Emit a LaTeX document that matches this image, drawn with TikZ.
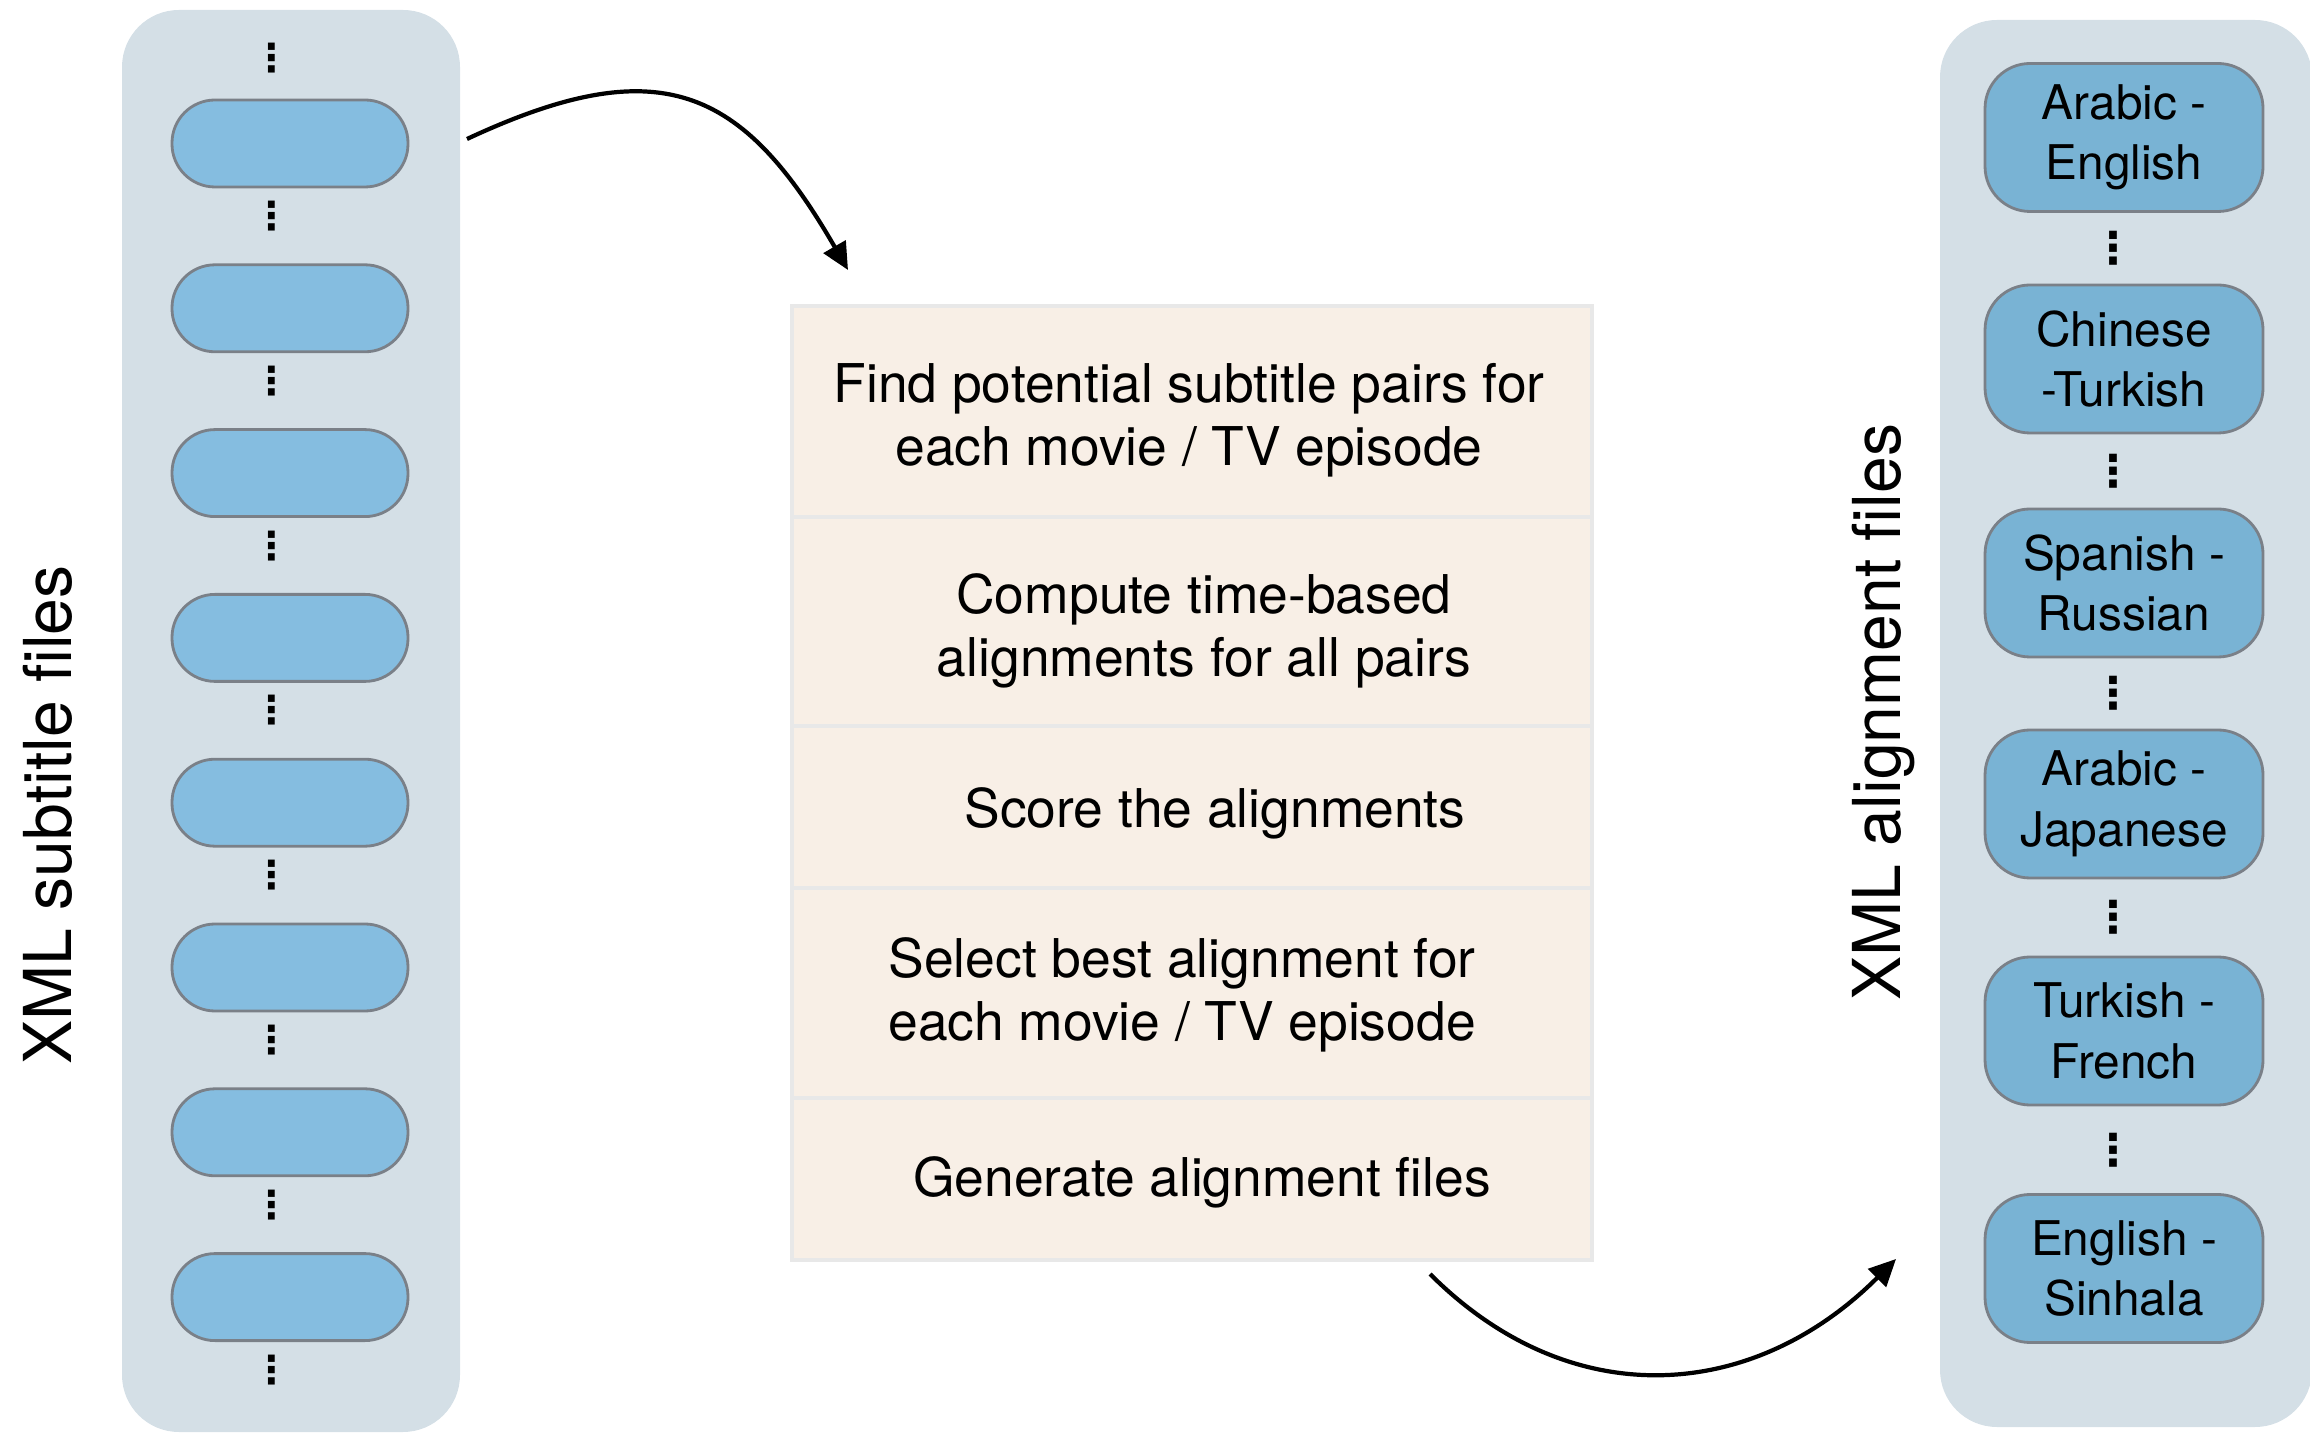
\documentclass[tikz,border=0pt]{standalone}
\usepackage{fontspec}
\setmainfont{TeX Gyre Heros}
\newfontfamily\dotfont{DejaVu Sans}
\usetikzlibrary{arrows.meta,positioning,calc}
\definecolor{pnBg}  {HTML}{D4DFE6}
\definecolor{pnOval}{HTML}{85BDE0}
\definecolor{pnPair}{HTML}{79B3D4}
\definecolor{pnEdge}{HTML}{7A8088}
\definecolor{stFill}{HTML}{F8EFE6}
\definecolor{stEdge}{HTML}{E8E8E8}
\newcommand{\vd}{{\dotfont\bfseries ⋮}}

\begin{document}
\begin{tikzpicture}[
      col/.style={fill=pnBg,rounded corners=0.57cm,inner sep=0pt},
      pill/.style={draw=pnEdge,fill=pnOval,line width=0.8pt,rounded corners=0.43cm,
                   minimum width=2.36cm,minimum height=0.87cm,inner sep=0pt},
      pair/.style={draw=pnEdge,fill=pnPair,line width=0.8pt,rounded corners=0.45cm,
                   minimum width=2.78cm,minimum height=1.48cm,align=center,inner sep=0pt,
                   font=\fontsize{13.6}{17.2}\selectfont},
      stepbox/.style={draw=stEdge,fill=stFill,line width=1.3pt,outer sep=0pt,minimum width=8.0cm},
      steptext/.style={align=center,inner sep=0pt,font=\fontsize{15.2}{17.9}\selectfont},
      side/.style={rotate=90,font=\fontsize{18.8}{22}\selectfont},
      dl/.style={font=\fontsize{11}{11}\selectfont,inner sep=0pt},
      dr/.style={font=\fontsize{12.5}{12.5}\selectfont,inner sep=0pt},
      flow/.style={line width=1.2pt,-{Triangle[length=0.27cm,width=0.25cm]}}]
    \useasboundingbox (0,0) rectangle (23.10,-14.33);
    % input column
    \node[col,minimum width=3.38cm,minimum height=14.22cm] (lp) at (2.91,-7.21) {};
    \node[side] (lt) at (0.48,-8.15) {XML subtitle files};
    \node[dl]   (d0) at (2.72,-0.585) {\vd};
    \node[pill] (o1) at (2.90,-1.435) {};
    \node[dl]   (d1) at (2.72,-2.16)  {\vd};
    \node[pill] (o2) at (2.90,-3.083) {};
    \node[dl]   (d2) at (2.72,-3.808) {\vd};
    \node[pill] (o3) at (2.90,-4.731) {};
    \node[dl]   (d3) at (2.72,-5.456) {\vd};
    \node[pill] (o4) at (2.90,-6.379) {};
    \node[dl]   (d4) at (2.72,-7.104) {\vd};
    \node[pill] (o5) at (2.90,-8.027) {};
    \node[dl]   (d5) at (2.72,-8.752) {\vd};
    \node[pill] (o6) at (2.90,-9.675) {};
    \node[dl]   (d6) at (2.72,-10.40) {\vd};
    \node[pill] (o7) at (2.90,-11.323) {};
    \node[dl]   (d7) at (2.72,-12.048) {\vd};
    \node[pill] (o8) at (2.90,-12.971) {};
    \node[dl]   (d8) at (2.72,-13.696) {\vd};
    % pipeline
    \node[stepbox,minimum height=2.11cm] (s1) at (11.92,-4.115) {};
    \node[stepbox,minimum height=2.09cm,below=0pt of s1] (s2) {};
    \node[stepbox,minimum height=1.62cm,below=0pt of s2] (s3) {};
    \node[stepbox,minimum height=2.10cm,below=0pt of s3] (s4) {};
    \node[stepbox,minimum height=1.62cm,below=0pt of s4] (s5) {};
    \node[steptext] (t1) at ($(s1)+(-0.03,-0.09)$) {Find potential subtitle pairs for\\each movie / TV episode};
    \node[steptext] (t2) at ($(s2)+(0.12,-0.09)$)  {Compute time-based\\alignments for all pairs};
    \node[steptext] (t3) at ($(s3)+(0.23,-0.06)$)  {Score the alignments};
    \node[steptext] (t4) at ($(s4)+(-0.10,-0.02)$) {Select best alignment for\\each movie / TV episode};
    \node[steptext] (t5) at ($(s5)+(0.10,-0.03)$)  {Generate alignment files};
    % output column
    \node[col,minimum width=3.72cm,minimum height=14.07cm] (rp) at (21.26,-7.235) {};
    \node[side] (rt) at (18.83,-7.12) {XML alignment files};
    \node[pair] (r1) at (21.24,-1.375) {Arabic -\\English};
    \node[pair] (r2) at (21.24,-3.59)  {Chinese\\-Turkish};
    \node[pair] (r3) at (21.24,-5.83)  {Spanish -\\Russian};
    \node[pair] (r4) at (21.24,-8.04)  {Arabic -\\Japanese};
    \node[pair] (r5) at (21.24,-10.31) {Turkish -\\French};
    \node[pair] (r6) at (21.24,-12.685){English -\\Sinhala};
    \node[dr] (e1) at ($(r1.south)!.5!(r2.north)+(-0.11,0)$) {\vd};
    \node[dr] (e2) at ($(r2.south)!.5!(r3.north)+(-0.11,0)$) {\vd};
    \node[dr] (e3) at ($(r3.south)!.5!(r4.north)+(-0.11,0)$) {\vd};
    \node[dr] (e4) at ($(r4.south)!.5!(r5.north)+(-0.11,0)$) {\vd};
    \node[dr] (e5) at ($(r5.south)!.5!(r6.north)+(-0.11,0)$) {\vd};
    % arrows
    \coordinate (lo) at (4.67,-1.39);
    \coordinate (ci) at (8.48,-2.70);
    \coordinate (co) at (14.30,-12.74);
    \coordinate (ri) at (18.96,-12.59);
    \draw[flow] (lo) to[out=25,in=120,looseness=1.35] (ci);
    \draw[flow] (co) to[out=-45,in=-135,looseness=1.1] (ri);
  \end{tikzpicture}
\end{document}
